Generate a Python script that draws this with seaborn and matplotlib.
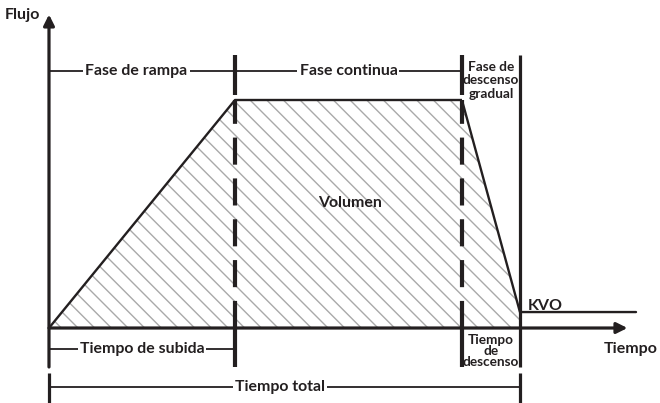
import matplotlib
matplotlib.use("Agg")
import matplotlib.pyplot as plt
import pandas as pd
import seaborn as sns

# Infusion profile: time (arbitrary units) vs. flow (% of continuous rate)
times = [0.0, 5.0, 11.1, 12.66, 15.78]
flow = [0.0, 100.0, 100.0, 7.0, 7.0]
phase_labels = ["Fase de rampa", "Fase continua", "Fase de\ndescenso\ngradual"]
time_labels = ["Tiempo de subida", "Tiempo\nde\ndescenso", "Tiempo total"]
axis_labels = ["Tiempo", "Flujo"]
area_label = "Volumen"
kvo_label = "KVO"

t0, t_rise, t_fall, t_end, t_last = times
peak = flow[1]
kvo = flow[3]

sns.set_theme(style="white")
plt.rcParams["font.family"] = ["Lato", "DejaVu Sans"]
plt.rcParams["hatch.linewidth"] = 1.0

INK = "#231f20"
HATCH = "#a9a9a9"

fig = plt.figure(figsize=(6.6, 4.03), dpi=100)
ax = fig.add_axes([0, 0, 1, 1])
ax.set_axis_off()
ax.set_xlim(-1.317, 16.425)
ax.set_ylim(-32.89, 143.86)

# Hatched volume under the curve
ax.fill_between(times[:4], flow[:4], 0, facecolor="none", edgecolor=HATCH,
                hatch="\\\\", linewidth=0, zorder=1)

# Flow curve
df = pd.DataFrame({"Tiempo": times, "Flujo": flow})
sns.lineplot(data=df, x="Tiempo", y="Flujo", ax=ax, color=INK, lw=1.7,
             zorder=4, legend=False)
ax.set_xlabel("")
ax.set_ylabel("")

# Levels for annotation rows (in flow units)
phase_y = 112.7
top_tick = (102.2, 119.7)
sub_y = -9.2
low_tick = -17.1
total_y = -25.9
total_tick = (-19.7, -32.9)

arrow_kw = dict(arrowstyle="-|>", color=INK, lw=2.3, mutation_scale=16,
                shrinkA=0, shrinkB=0)
# Axes with arrow heads
ax.annotate("", xy=(0, 137.5), xytext=(0, low_tick), arrowprops=arrow_kw, zorder=5)
ax.annotate("", xy=(15.55, 0), xytext=(0, 0), arrowprops=arrow_kw, zorder=5)

# Phase boundaries
for t in (t_rise, t_fall):
    ax.plot([t, t], [0, peak], color=INK, lw=3.0, dashes=(6.5, 3.3), zorder=5,
            solid_capstyle="butt", dash_capstyle="butt")
    ax.plot([t, t], list(top_tick), color=INK, lw=3.0, solid_capstyle="butt", zorder=5)
    ax.plot([t, t], [0, low_tick], color=INK, lw=3.0, solid_capstyle="butt", zorder=5)
ax.plot([t_end, t_end], [low_tick, top_tick[1]], color=INK, lw=2.3,
        solid_capstyle="butt", zorder=5)
for t in (t0, t_end):
    ax.plot([t, t], list(total_tick), color=INK, lw=2.3, solid_capstyle="butt", zorder=5)

# Phase row
ax.plot([t0, t_end], [phase_y, phase_y], color=INK, lw=1.3, zorder=3)
# Time rows
ax.plot([t0, t_rise], [sub_y, sub_y], color=INK, lw=1.3, zorder=3)
ax.plot([t_fall, t_end], [sub_y, sub_y], color=INK, lw=1.3, zorder=3)
ax.plot([t0, t_end], [total_y, total_y], color=INK, lw=1.3, zorder=3)

txt = dict(color=INK, fontsize=11.4, fontweight="bold", ha="center", va="center",
           zorder=6)
box = dict(facecolor="white", edgecolor="none", pad=1.5)
tight_box = dict(facecolor="white", edgecolor="none", pad=0.3)
narrow = {**txt, "fontsize": 9.8, "zorder": 4.5}

ax.text(2.35, phase_y, phase_labels[0], bbox=box, **txt)
ax.text(8.05, phase_y, phase_labels[1], bbox=box, **txt)
ax.text((t_fall + t_end) / 2, 108.6, phase_labels[2], bbox=tight_box,
        linespacing=1.18, **narrow)

ax.text(2.5, sub_y, time_labels[0], bbox=box, **txt)
ax.text((t_fall + t_end) / 2, -9.9, time_labels[1], bbox=tight_box,
        linespacing=0.9, **narrow)
ax.text(6.2, total_y, time_labels[2], bbox=box, **txt)

ax.text(8.1, 55, area_label, **txt)
ax.text(t_end + 0.2, kvo + 1.0, kvo_label, color=INK, fontsize=11.5,
        fontweight="bold", ha="left", va="baseline", zorder=6)
ax.text(16.35, -9.3, axis_labels[0], color=INK, fontsize=11.5, fontweight="bold",
        ha="right", va="center", zorder=6)
ax.text(-1.2, 137.2, axis_labels[1], color=INK, fontsize=11.5, fontweight="bold",
        ha="left", va="center", zorder=6)

fig.savefig("out.png", dpi=100, facecolor="white")
